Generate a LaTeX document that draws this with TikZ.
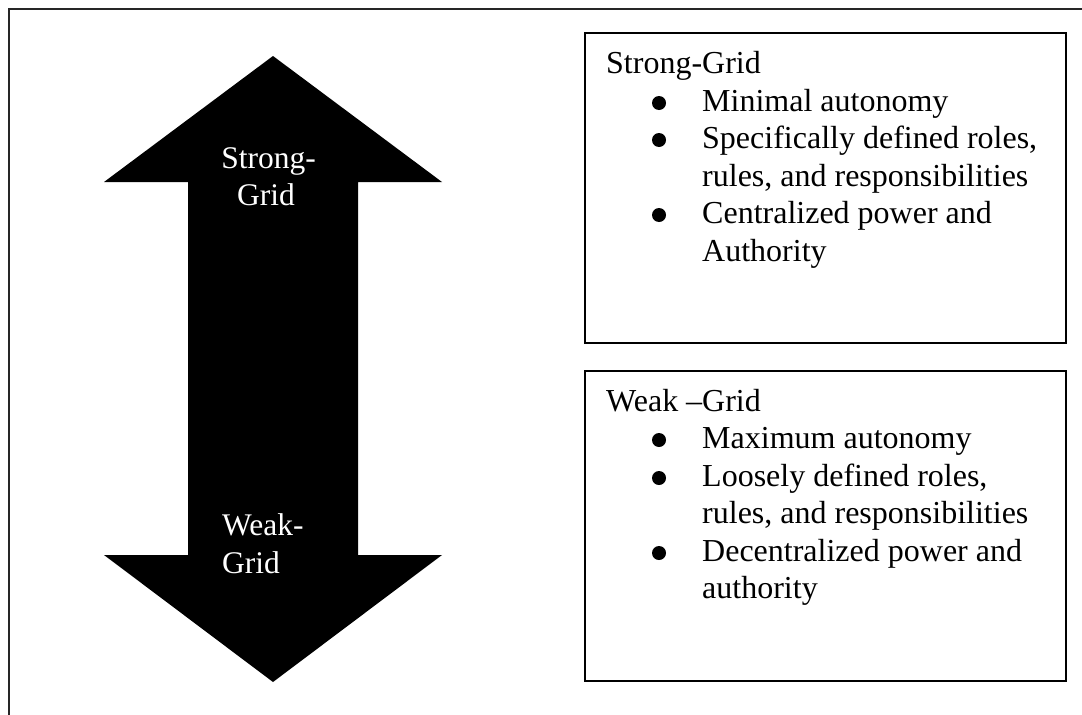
\documentclass[tikz,border=0pt]{standalone}
\usepackage{fontspec}
\setmainfont{Liberation Serif}
\begin{document}
\begin{tikzpicture}[x=1pt,y=-1pt,
  body/.style={font=\fontsize{32}{37}\selectfont, inner sep=0pt},
  line/.style={body, anchor=base west},
  dot/.style={circle, fill=black, inner sep=0pt, minimum size=14pt},
  arrowtxt/.style={font=\fontsize{31.5}{37}\selectfont, inner sep=0pt, text=white},
  panel/.style={draw=black, line width=2pt, anchor=north west, inner sep=0pt,
                minimum width=481pt, minimum height=310pt}]
\useasboundingbox (0,0) rectangle (1082,715);
% outer frame (top and left edges)
\draw[line width=2pt, draw=black!85] (9,715) -- (9,9) -- (1082,9);

% double-headed block arrow
\fill[black] (273,56) -- (442,182) -- (358,182) -- (358,555) -- (442,555)
  -- (273,682) -- (104,555) -- (188,555) -- (188,182) -- (104,182) -- cycle;
\node[arrowtxt, anchor=base] (up1) at (268.5,168) {Strong-};
\node[arrowtxt, anchor=base] (up2) at (266,205) {Grid};
\node[arrowtxt, anchor=base west] (dn1) at (222,535) {Weak-};
\node[arrowtxt, anchor=base west] (dn2) at (222,573) {Grid};

% strong-grid panel
\node[panel] (sbox) at (584,32) {};
\node[line] (sh) at (606,73) {Strong-Grid};
\node[dot] (sd1) at (659,103) {};
\node[line] at (702,111) {Minimal autonomy};
\node[dot] (sd2) at (659,140) {};
\node[line] at (702,148) {Specifically defined roles,};
\node[line] at (702,186) {rules, and responsibilities};
\node[dot] (sd3) at (659,215) {};
\node[line] at (702,223) {Centralized power and};
\node[line] at (702,261) {Authority};

% weak-grid panel
\node[panel] (wbox) at (584,370) {};
\node[line] (wh) at (606,411) {Weak –Grid};
\node[dot] (wd1) at (659,440) {};
\node[line] at (702,448) {Maximum autonomy};
\node[dot] (wd2) at (659,478) {};
\node[line] at (702,486) {Loosely defined roles,};
\node[line] at (702,523) {rules, and responsibilities};
\node[dot] (wd3) at (659,553) {};
\node[line] at (702,561) {Decentralized power and};
\node[line] at (702,598) {authority};
\end{tikzpicture}
\end{document}
